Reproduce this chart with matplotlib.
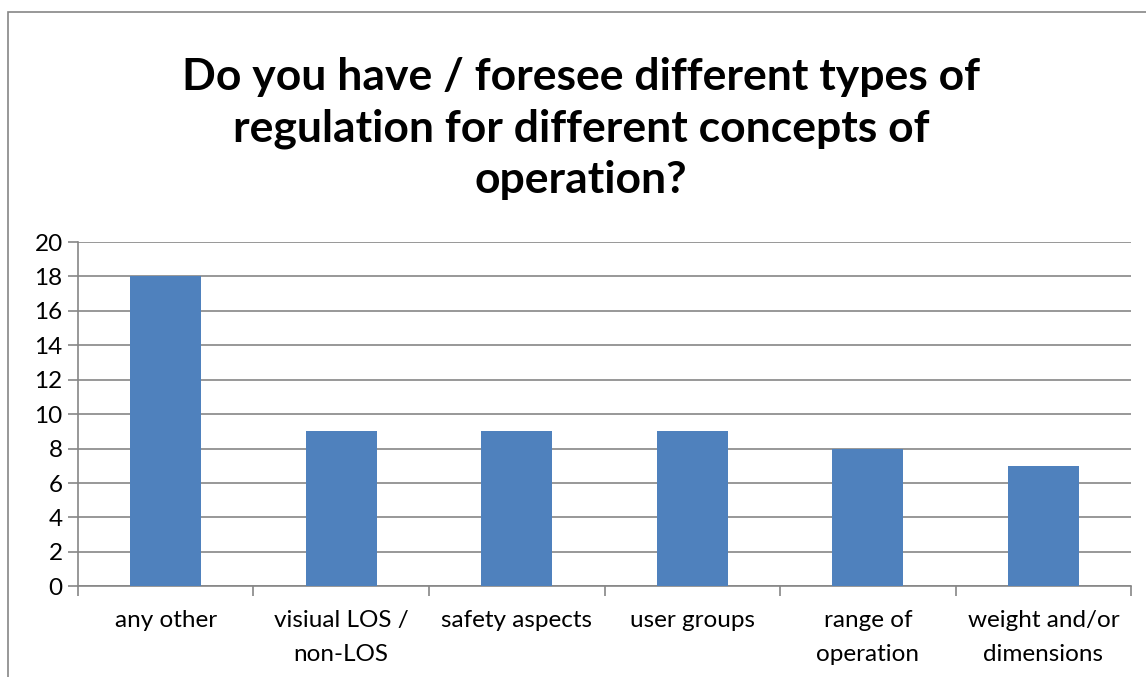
import matplotlib.pyplot as plt
from matplotlib.patches import Rectangle
import numpy as np

categories = ["any other", "visiual LOS /\nnon-LOS", "safety aspects", "user groups",
              "range of\noperation", "weight and/or\ndimensions"]
counts = [18, 9, 9, 9, 8, 7]
y_ticks = [0, 2, 4, 6, 8, 10, 12, 14, 16, 18, 20]

plt.rcParams['font.family'] = ['Lato', 'DejaVu Sans']
grey = '#868686'

fig = plt.figure(figsize=(11.46, 6.77), dpi=100)
ax = fig.add_axes([0.068, 0.134, 0.919, 0.5085])

x = np.arange(len(categories))
ax.bar(x, counts, width=0.405, color='#4f81bd', zorder=3)

ax.set_xlim(-0.5, len(categories) - 0.5)
ax.set_ylim(0, 20)
ax.set_yticks(y_ticks)
ax.yaxis.grid(True, color=grey, linewidth=1.2, zorder=0)
ax.tick_params(axis='y', labelsize=17.5, length=7, color=grey, width=1.2, pad=4)

# category labels sit between the boundary ticks
ax.set_xticks(np.arange(len(categories) + 1) - 0.5)
ax.set_xticklabels([])
ax.set_xticks(x, minor=True)
ax.set_xticklabels(categories, minor=True, fontsize=17.5, linespacing=1.75)
ax.tick_params(axis='x', which='major', length=7, color=grey, width=1.2)
ax.tick_params(axis='x', which='minor', length=0, pad=17)

for s in ['top', 'right']:
    ax.spines[s].set_visible(False)
for s in ['left', 'bottom']:
    ax.spines[s].set_color(grey)
    ax.spines[s].set_linewidth(1.2)

fig.text(0.507, 0.81, "Do you have / foresee different types of\nregulation for different concepts of\noperation?",
         ha='center', va='center', fontsize=32, fontweight='bold', linespacing=1.33)

fig.patches.append(Rectangle((0.007, -0.05), 1.1, 1.032, transform=fig.transFigure,
                             fill=False, edgecolor=grey, linewidth=1.2))

fig.savefig('out.png', dpi=100)
